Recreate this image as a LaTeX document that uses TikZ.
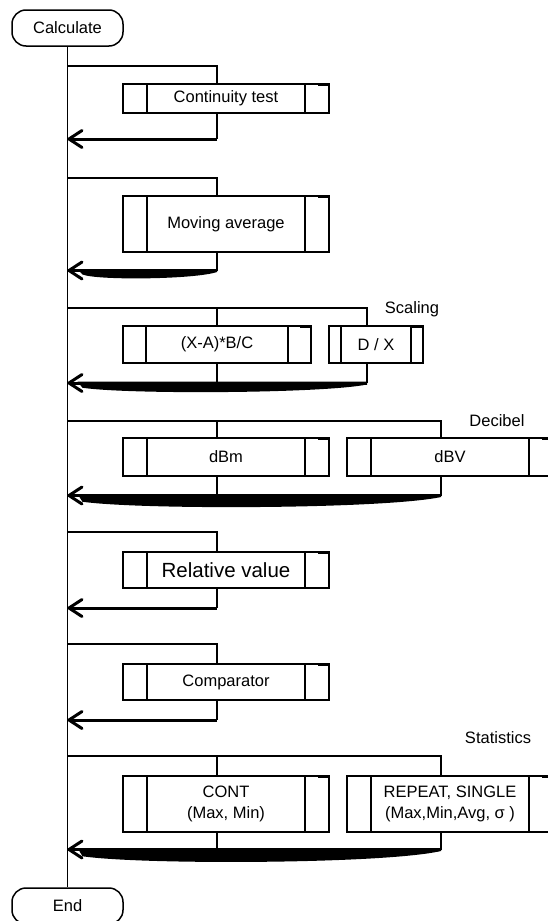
\documentclass[tikz,border=0pt]{standalone}
\usepackage{fontspec}
\setmainfont{Liberation Sans}
\usetikzlibrary{arrows.meta, calc}
\tikzset{
  ret arrow/.style={-{Straight Barb[length=13pt,width=17pt,round]}, line width=3pt},
}
% wide return: start, end, sag below the line
\newcommand{\wideret}[3]{%
  \fill ($(#1)+(0,-1.5)$) -- ($(#2)+(10,-1.5)$) -- ($(#2)+(15,#3*0.5)$)
    .. controls ($(#2)!0.2!(#1)+(0,#3+2)$) and ($(#2)!0.85!(#1)+(0,#3+1)$)
    .. ($(#1)+(0,1.5)$) -- cycle;
  \draw[ret arrow] (#1) -- (#2);}

\begin{document}
\begin{tikzpicture}[x=1pt, y=-1pt, line width=1.5pt,
    font=\fontsize{16.5}{21}\selectfont,
    term/.style={draw, rounded corners=14pt, minimum width=111, minimum height=36,
                 inner sep=0pt},
    proc/.style={draw, inner sep=0pt, align=center,
                 path picture={
                   \draw ([xshift=#1]path picture bounding box.north west)
                      -- ([xshift=#1]path picture bounding box.south west)
                         ([xshift=-#1]path picture bounding box.north east)
                      -- ([xshift=-#1]path picture bounding box.south east);
                   \draw[line width=4pt] ([xshift=-11]path picture bounding box.north east)
                      -- (path picture bounding box.north east);}},
    proc/.default=24,
    tag/.style={inner sep=0pt}]
  \useasboundingbox (0,0) rectangle (547,921);
  % Terminals
  \node[term] (calc) at (67.5,28)  {Calculate};
  \node[term] (endt) at (67.5,906) {End};
  % Boxes
  \node[proc, minimum width=206, minimum height=29] (cont)   at (226,98.5)  {Continuity test};
  \node[proc, minimum width=206, minimum height=56] (mavg)   at (226,224)   {Moving average};
  \node[proc=23, minimum width=188, minimum height=37] (sclin) at (217,344.5) {(X-A)*B/C};
  \node[proc=12, minimum width=94, minimum height=37]  (scdiv) at (376,344.5) {D / X};
  \node[proc, minimum width=206, minimum height=38] (dbm)    at (226,457)   {dBm};
  \node[proc, minimum width=206, minimum height=38] (dbv)    at (450,457)   {dBV};
  \node[proc, minimum width=206, minimum height=36,
        font=\fontsize{20.5}{24}\selectfont]         (rel)    at (226,570)   {Relative value};
  \node[proc, minimum width=206, minimum height=36] (cmp)    at (226,682)   {Comparator};
  \node[proc, minimum width=206, minimum height=56] (stcont) at (226,804)   {CONT\\(Max, Min)};
  \node[proc, minimum width=206, minimum height=56] (strep)  at (450,804)   {REPEAT, SINGLE\\(Max,Min,Avg, σ )};
  % Group labels
  \node[tag] (lscal) at (412,309) {Scaling};
  \node[tag] (ldb)   at (497,421) {Decibel};
  \node[tag] (lstat) at (498,738) {Statistics};
  % Spine
  \draw (calc) -- (endt);
  % Continuity test
  \coordinate (f1) at (67.5,66);  \coordinate (j1) at (217,66);
  \coordinate (r1) at (217,139);  \coordinate (a1) at (67.5,139);
  \draw (f1) -- (j1) -- (j1 |- cont.north);
  \draw (r1 |- cont.south) -- (r1);
  \draw[ret arrow] (r1) -- (a1);
  % Moving average
  \coordinate (f2) at (67.5,178); \coordinate (j2) at (217,178);
  \coordinate (r2) at (217,270.5); \coordinate (a2) at (67.5,270.5);
  \draw (f2) -- (j2) -- (j2 |- mavg.north);
  \draw (r2 |- mavg.south) -- (r2);
  \wideret{r2}{a2}{8}
  % Scaling
  \coordinate (f3) at (67.5,308); \coordinate (j3) at (367,308);
  \coordinate (r3) at (367,383);  \coordinate (a3) at (67.5,383);
  \draw (f3) -- (j3) -- (j3 |- scdiv.north);
  \draw (sclin.north -| j1) -- (j1 |- f3);
  \draw (sclin.south -| j1) -- (j1 |- r3);
  \draw (r3 |- scdiv.south) -- (r3);
  \wideret{r3}{a3}{9.5}
  % Decibel
  \coordinate (f4) at (67.5,421); \coordinate (j4) at (441,421);
  \coordinate (r4) at (441,495.5); \coordinate (a4) at (67.5,495.5);
  \draw (f4) -- (j4) -- (j4 |- dbv.north);
  \draw (dbm.north -| j1) -- (j1 |- f4);
  \draw (dbm.south -| j1) -- (j1 |- r4);
  \draw (r4 |- dbv.south) -- (r4);
  \wideret{r4}{a4}{12.5}
  % Relative value
  \coordinate (f5) at (67.5,532); \coordinate (j5) at (217,532);
  \coordinate (r5) at (217,608);  \coordinate (a5) at (67.5,608);
  \draw (f5) -- (j5) -- (j5 |- rel.north);
  \draw (r5 |- rel.south) -- (r5);
  \draw[ret arrow] (r5) -- (a5);
  % Comparator
  \coordinate (f6) at (67.5,644); \coordinate (j6) at (217,644);
  \coordinate (r6) at (217,720);  \coordinate (a6) at (67.5,720);
  \draw (f6) -- (j6) -- (j6 |- cmp.north);
  \draw (r6 |- cmp.south) -- (r6);
  \draw[ret arrow] (r6) -- (a6);
  % Statistics
  \coordinate (f7) at (67.5,756); \coordinate (j7) at (441,756);
  \coordinate (r7) at (441,849.5); \coordinate (a7) at (67.5,849.5);
  \draw (f7) -- (j7) -- (j7 |- strep.north);
  \draw (stcont.north -| j1) -- (j1 |- f7);
  \draw (stcont.south -| j1) -- (j1 |- r7);
  \draw (r7 |- strep.south) -- (r7);
  \wideret{r7}{a7}{13.5}
\end{tikzpicture}
\end{document}
